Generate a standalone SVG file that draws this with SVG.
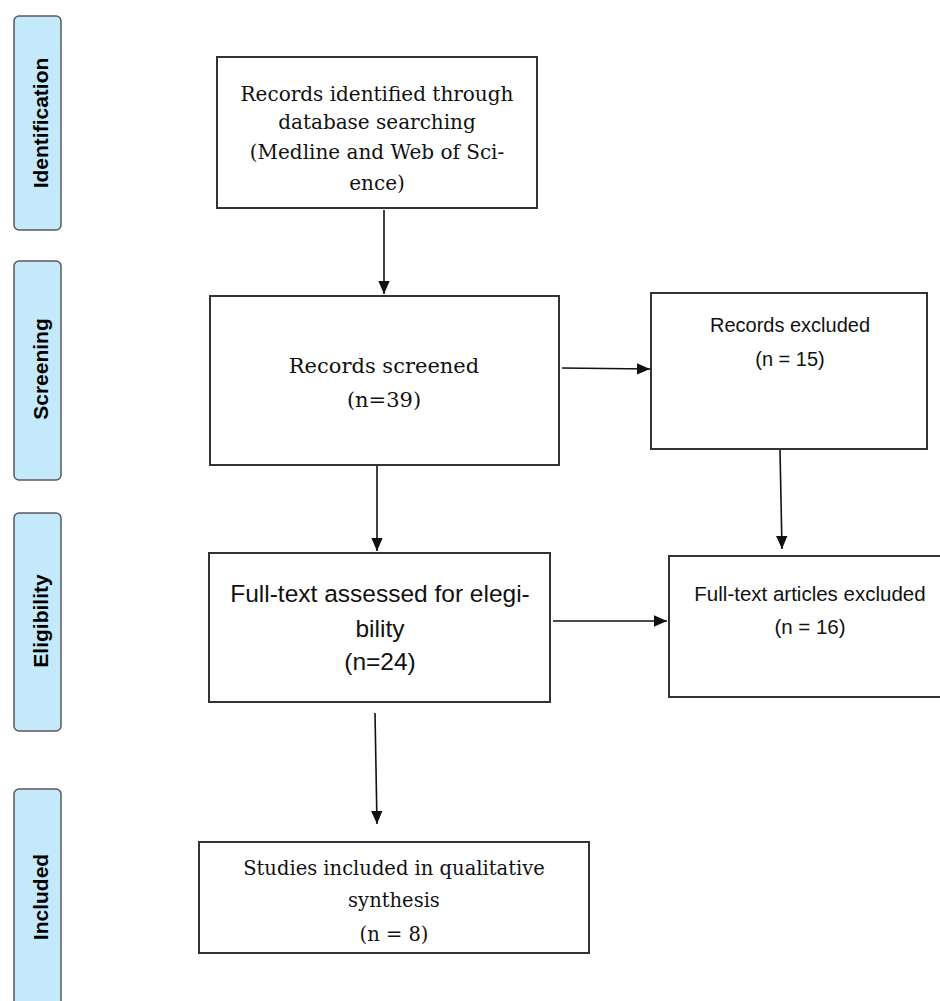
<svg xmlns="http://www.w3.org/2000/svg" width="940" height="1001" viewBox="0 0 940 1001">
<style>
.tab{fill:#c3e9fb;stroke:#5a5a5a;stroke-width:1.5}
.tabt{font-family:"Liberation Sans",Arial,sans-serif;font-weight:bold;font-size:21px;fill:#000;text-anchor:middle}
.box{fill:#fff;stroke:#333;stroke-width:2}
.serif{font-family:"DejaVu Serif","Liberation Serif",serif;fill:#111;text-anchor:middle}
.sans{font-family:"Liberation Sans",Arial,sans-serif;fill:#111;text-anchor:middle}
.conn{stroke:#111;stroke-width:1.6;fill:none;marker-end:url(#ah)}
</style>
<defs>
<marker id="ah" markerUnits="userSpaceOnUse" markerWidth="13" markerHeight="13" viewBox="0 0 13 13" refX="13" refY="6.5" orient="auto">
<path d="M0,0.8 L13,6.5 L0,12.2 Z" fill="#111"/>
</marker>
</defs>
<rect width="940" height="1001" fill="#fff"/>
<g id="tab-identification"><rect class="tab" x="14" y="16" width="47" height="214" rx="5"/><text class="tabt" transform="translate(47.5,123) rotate(-90)">Identification</text></g>
<g id="tab-screening"><rect class="tab" x="14" y="261" width="47" height="219" rx="5"/><text class="tabt" transform="translate(47.5,369) rotate(-90)">Screening</text></g>
<g id="tab-eligibility"><rect class="tab" x="14" y="513" width="47" height="218" rx="5"/><text class="tabt" transform="translate(47.5,621) rotate(-90)">Eligibility</text></g>
<g id="tab-included"><rect class="tab" x="14" y="789" width="47" height="230" rx="5"/><text class="tabt" transform="translate(47.5,897) rotate(-90)">Included</text></g>
<g id="connectors">
<line class="conn" x1="384" y1="210" x2="384" y2="294"/>
<line class="conn" x1="562" y1="368" x2="650" y2="369"/>
<line class="conn" x1="377" y1="466" x2="377" y2="551"/>
<line class="conn" x1="780" y1="450" x2="782" y2="549"/>
<line class="conn" x1="553" y1="621" x2="667" y2="621"/>
<line class="conn" x1="375" y1="713" x2="377" y2="824"/>
</g>
<g id="n-identified"><rect class="box" x="217" y="57" width="320" height="151"/>
<text class="serif" font-size="20" x="377" y="101">Records identified through</text>
<text class="serif" font-size="20" x="377" y="129">database searching</text>
<text class="serif" font-size="20" x="377" y="159">(Medline and Web of Sci-</text>
<text class="serif" font-size="20" x="377" y="190">ence)</text></g>
<g id="n-screened"><rect class="box" x="210" y="296" width="349" height="169"/>
<text class="serif" font-size="21" x="384" y="373">Records screened</text>
<text class="serif" font-size="21" x="384" y="407">(n=39)</text></g>
<g id="n-excluded"><rect class="box" x="651" y="293" width="276" height="156"/>
<text class="sans" font-size="20" x="790" y="332">Records excluded</text>
<text class="sans" font-size="20" x="790" y="366">(n = 15)</text></g>
<g id="n-fulltext"><rect class="box" x="209" y="553" width="341" height="149"/>
<text class="sans" font-size="24.5" x="380" y="602">Full-text assessed for elegi-</text>
<text class="sans" font-size="24.5" x="380" y="637">bility</text>
<text class="sans" font-size="24.5" x="380" y="670">(n=24)</text></g>
<g id="n-ftexcluded"><rect class="box" x="669" y="556" width="283" height="141"/>
<text class="sans" font-size="20.5" x="810" y="601">Full-text articles excluded</text>
<text class="sans" font-size="20.5" x="810" y="634">(n = 16)</text></g>
<g id="n-included"><rect class="box" x="199" y="842" width="390" height="111"/>
<text class="serif" font-size="19.5" x="394" y="875">Studies included in qualitative</text>
<text class="serif" font-size="19.5" x="394" y="907">synthesis</text>
<text class="serif" font-size="19.5" x="394" y="941">(n = 8)</text></g>
</svg>
